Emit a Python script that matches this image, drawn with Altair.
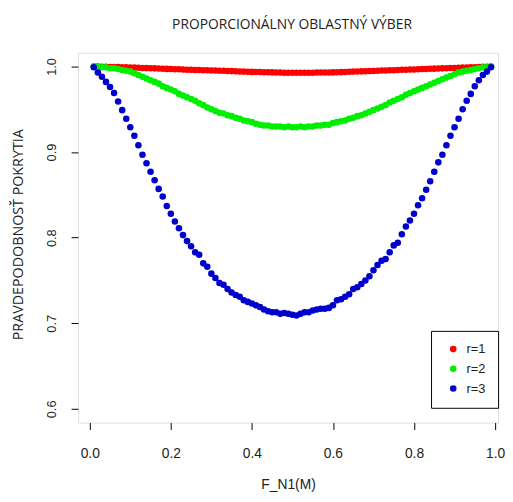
import altair as alt
import pandas as pd

x_vals = [round(0.01 * i, 2) for i in range(1, 100)]

r1 = [1.0000, 0.9999, 0.9998, 0.9997, 0.9995, 0.9994, 0.9993, 0.9992, 0.9990, 0.9989,
      0.9987, 0.9985, 0.9983, 0.9981, 0.9980, 0.9978, 0.9976, 0.9974, 0.9972, 0.9970,
      0.9968, 0.9967, 0.9965, 0.9963, 0.9962, 0.9960, 0.9959, 0.9957, 0.9956, 0.9954,
      0.9952, 0.9951, 0.9949, 0.9947, 0.9946, 0.9944, 0.9942, 0.9940, 0.9939, 0.9937,
      0.9936, 0.9935, 0.9933, 0.9932, 0.9931, 0.9930, 0.9929, 0.9928, 0.9927, 0.9926,
      0.9926, 0.9927, 0.9927, 0.9928, 0.9928, 0.9929, 0.9929, 0.9930, 0.9930, 0.9931,
      0.9933, 0.9934, 0.9936, 0.9938, 0.9940, 0.9941, 0.9943, 0.9945, 0.9946, 0.9948,
      0.9950, 0.9952, 0.9953, 0.9955, 0.9957, 0.9959, 0.9961, 0.9962, 0.9964, 0.9966,
      0.9968, 0.9970, 0.9971, 0.9973, 0.9975, 0.9977, 0.9978, 0.9980, 0.9982, 0.9983,
      0.9985, 0.9987, 0.9988, 0.9990, 0.9992, 0.9994, 0.9996, 0.9998, 1.0000]

r2 = [1.000, 1.000, 0.999, 0.999, 0.998, 0.998, 0.997, 0.996, 0.995, 0.994,
      0.992, 0.990, 0.988, 0.986, 0.984, 0.982, 0.980, 0.977, 0.975, 0.973,
      0.971, 0.968, 0.966, 0.964, 0.962, 0.960, 0.957, 0.955, 0.952, 0.950,
      0.948, 0.946, 0.945, 0.943, 0.942, 0.940, 0.939, 0.937, 0.936, 0.935,
      0.933, 0.932, 0.931, 0.931, 0.930, 0.930, 0.930, 0.929, 0.930, 0.929,
      0.929, 0.930, 0.929, 0.930, 0.930, 0.931, 0.931, 0.932, 0.932, 0.934,
      0.935, 0.936, 0.937, 0.939, 0.940, 0.942, 0.943, 0.945, 0.947, 0.949,
      0.951, 0.953, 0.955, 0.958, 0.960, 0.962, 0.964, 0.967, 0.969, 0.971,
      0.973, 0.975, 0.977, 0.979, 0.981, 0.983, 0.985, 0.987, 0.989, 0.991,
      0.993, 0.994, 0.995, 0.996, 0.997, 0.998, 0.999, 0.999, 1.000]

r3 = [0.999, 0.993, 0.988, 0.982, 0.976, 0.969, 0.959, 0.949, 0.939, 0.929,
      0.919, 0.908, 0.897, 0.887, 0.877, 0.867, 0.857, 0.848, 0.837, 0.828,
      0.819, 0.811, 0.803, 0.796, 0.790, 0.783, 0.780, 0.770, 0.766, 0.758,
      0.753, 0.747, 0.745, 0.740, 0.736, 0.733, 0.731, 0.727, 0.725, 0.723,
      0.721, 0.719, 0.716, 0.714, 0.713, 0.713, 0.711, 0.712, 0.711, 0.710,
      0.709, 0.711, 0.713, 0.713, 0.715, 0.716, 0.717, 0.717, 0.718, 0.721,
      0.727, 0.728, 0.731, 0.734, 0.740, 0.742, 0.746, 0.750, 0.755, 0.762,
      0.768, 0.773, 0.775, 0.783, 0.791, 0.794, 0.804, 0.813, 0.820, 0.828,
      0.838, 0.846, 0.856, 0.866, 0.877, 0.888, 0.897, 0.908, 0.919, 0.929,
      0.939, 0.950, 0.960, 0.968, 0.977, 0.984, 0.990, 0.994, 0.999]

series_names = ["r=1", "r=2", "r=3"]
series_colors = ["#FF0000", "#00EE00", "#0000CD"]
x_ticks = [0.0, 0.2, 0.4, 0.6, 0.8, 1.0]
y_ticks = [0.6, 0.7, 0.8, 0.9, 1.0]

rows = []
for k, (name, vals) in enumerate(zip(series_names, [r1, r2, r3])):
    for xv, yv in zip(x_vals, vals):
        rows.append({"x": xv, "y": yv, "r": name, "ord": k})
df = pd.DataFrame(rows)

chart = alt.Chart(df).mark_circle(size=44, opacity=1).encode(
    x=alt.X("x:Q", scale=alt.Scale(domain=[-0.029, 1.0075], nice=False, zero=False),
            axis=alt.Axis(values=x_ticks, format=".1f", title="F_N1(M)",
                          tickSize=7, tickColor="black", domain=False, grid=False,
                          labelFont="Liberation Sans", labelFontSize=14, labelColor="#222",
                          labelPadding=17, labelFlush=False,
                          titleFont="Liberation Sans", titleFontSize=14, titleFontWeight="normal",
                          titleColor="#222", titleY=67, titleBaseline="alphabetic")),
    y=alt.Y("y:Q", scale=alt.Scale(domain=[0.584, 1.016], nice=False, zero=False),
            axis=alt.Axis(values=y_ticks, format=".1f", title="PRAVDEPODOBNOSŤ POKRYTIA",
                          tickSize=7, tickColor="black", domain=False, grid=False,
                          labelFont="Liberation Sans", labelFontSize=13, labelColor="#222",
                          labelAngle=270, labelAlign="center", labelBaseline="bottom",
                          labelPadding=13, labelFlush=False,
                          titleFont="Open Sans", titleFontSize=14.5, titleFontWeight="normal",
                          titleColor="#222", titleX=-60, titleY=184, titleBaseline="middle")),
    color=alt.Color("r:N", scale=alt.Scale(domain=series_names, range=series_colors),
                    legend=alt.Legend(title=None, orient="none", legendX=358, legendY=282,
                                      strokeColor="black", fillColor="white", padding=12,
                                      rowPadding=6, symbolType="circle", symbolSize=44,
                                      symbolStrokeWidth=0, symbolOffset=4, labelOffset=7,
                                      labelFont="Liberation Sans", labelFontSize=13,
                                      labelColor="#222", cornerRadius=0)),
    order=alt.Order("ord:Q"),
).properties(
    width=426, height=375,
    title=alt.TitleParams("PROPORCIONÁLNY OBLASTNÝ VÝBER", font="Open Sans", fontSize=14,
                          fontWeight="normal", color="#222", anchor="middle", offset=21, dx=4),
    autosize=alt.AutoSizeParams(type="none"),
    padding={"left": 71, "top": 42, "right": 7, "bottom": 69},
).configure_view(stroke="black", strokeWidth=1).configure(background="white")

chart.save("out.html", embed_options={"renderer": "svg", "actions": False})
